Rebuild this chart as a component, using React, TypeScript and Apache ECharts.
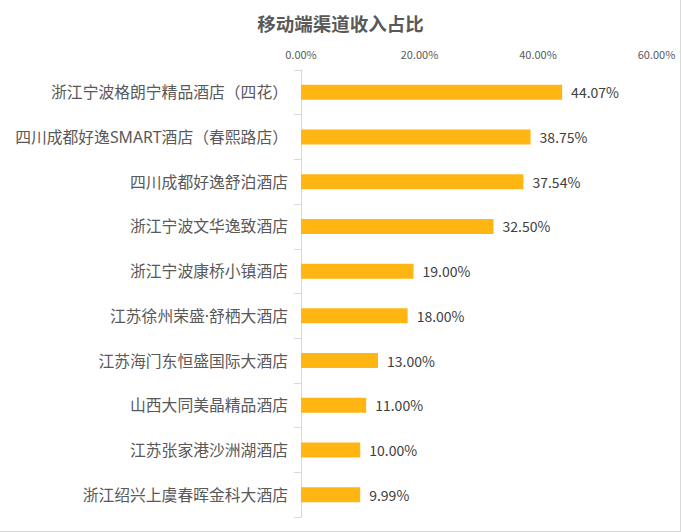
import React, { useEffect, useRef } from "react";
import * as echarts from "echarts";

const categories = [
  "浙江宁波格朗宁精品酒店（四花）",
  "四川成都好逸SMART酒店（春熙路店）",
  "四川成都好逸舒泊酒店",
  "浙江宁波文华逸致酒店",
  "浙江宁波康桥小镇酒店",
  "江苏徐州荣盛·舒栖大酒店",
  "江苏海门东恒盛国际大酒店",
  "山西大同美晶精品酒店",
  "江苏张家港沙洲湖酒店",
  "浙江绍兴上虞春晖金科大酒店",
];
const values = [44.07, 38.75, 37.54, 32.5, 19.0, 18.0, 13.0, 11.0, 10.0, 9.99];
const axisMin = 0;
const axisMax = 60;
const axisInterval = 20;
const title = "移动端渠道收入占比";

const FONT = "'Noto Sans CJK SC', 'Noto Sans', sans-serif";
const LABEL_FONT = "'Noto Sans', 'Noto Sans CJK SC', sans-serif";

export default function App() {
  const ref = useRef<HTMLDivElement>(null);
  useEffect(() => {
    if (!ref.current) return;
    const chart = echarts.init(ref.current, undefined, { renderer: "svg" });
    chart.setOption({
      animation: false,
      backgroundColor: "#ffffff",
      title: {
        text: title,
        left: "center",
        top: 9,
        textStyle: { fontFamily: FONT, fontSize: 18.5, fontWeight: "bold", color: "#595959" },
      },
      grid: { left: 301, right: 24.5, top: 70, bottom: 15, containLabel: false },
      xAxis: {
        type: "value",
        position: "top",
        min: axisMin,
        max: axisMax,
        interval: axisInterval,
        axisLine: { show: false },
        axisTick: { show: false },
        splitLine: { show: false },
        axisLabel: {
          margin: 11,
          fontFamily: FONT,
          fontSize: 11,
          color: "#595959",
          formatter: (v: number) => v.toFixed(2) + "%",
        },
      },
      yAxis: {
        type: "category",
        inverse: true,
        data: categories,
        axisLine: { show: true, lineStyle: { color: "#d9d9d9", width: 1 } },
        axisTick: { show: true, length: 7, lineStyle: { color: "#d9d9d9" } },
        axisLabel: { margin: 13, fontFamily: LABEL_FONT, fontSize: 15.8, color: "#595959" },
      },
      series: [
        {
          type: "bar",
          data: values,
          barWidth: 15,
          itemStyle: { color: "#FFB612" },
          label: {
            show: true,
            position: "right",
            distance: 9,
            fontFamily: FONT,
            fontSize: 14,
            color: "#404040",
            formatter: (p: any) => Number(p.value).toFixed(2) + "%",
          },
        },
      ],
      graphic: [
        { type: "line", shape: { x1: 680.5, y1: 0, x2: 680.5, y2: 532 }, style: { stroke: "#d9d9d9", lineWidth: 1 } },
        { type: "line", shape: { x1: 0, y1: 531.5, x2: 681, y2: 531.5 }, style: { stroke: "#d9d9d9", lineWidth: 1 } },
      ],
    });
    return () => chart.dispose();
  }, []);
  return (
    <div
      ref={ref}
      style={{ position: "absolute", left: 0, top: 0, width: 681, height: 532 }}
    />
  );
}
